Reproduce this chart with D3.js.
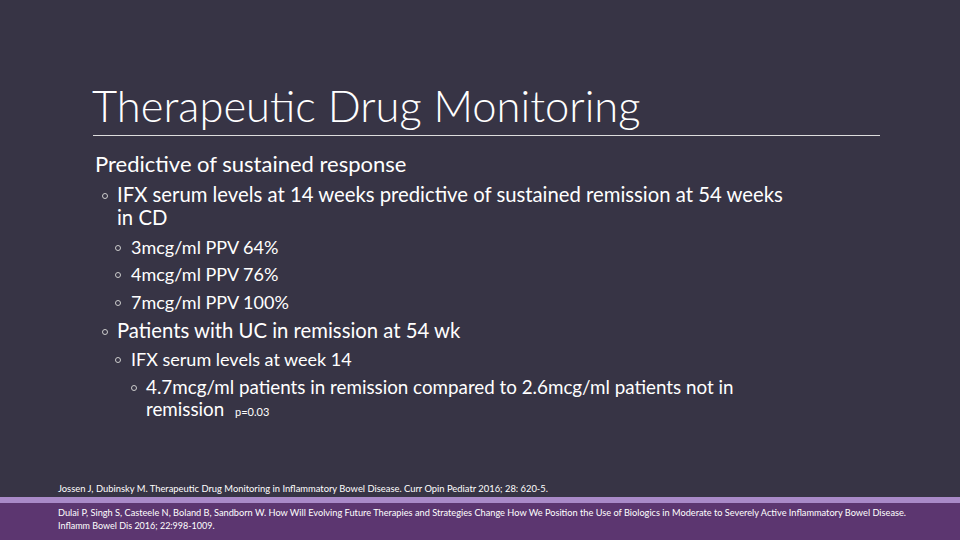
<!DOCTYPE html><html><head><meta charset="utf-8"><script src="https://cdn.jsdelivr.net/npm/d3@7"></script>
<style>body{margin:0;background:#373445}svg{display:block}</style></head><body><svg width="960" height="540"></svg>
<script>
const titleText = ["Therapeutic Drug Monitoring"];
const bulletTexts = ["Predictive of sustained response","IFX serum levels at 14 weeks predictive of sustained remission at 54 weeks","in CD","3mcg/ml PPV 64%","4mcg/ml  PPV 76%","7mcg/ml PPV 100%","Patients with UC in remission at 54 wk","IFX serum levels at week 14","4.7mcg/ml patients in remission compared to 2.6mcg/ml  patients not in","remission"];
const bulletLevels = [0,1,1,2,2,2,1,2,3,3];
const bulletMarks = [false,true,false,true,true,true,true,true,true,false];
const bulletBaselines = [172,202,225,254,281,309,338,366,394,416];
const refTexts = ["Jossen J, Dubinsky M. Therapeutic Drug Monitoring in Inflammatory Bowel Disease. Curr Opin Pediatr 2016; 28:  620-5.","Dulai P, Singh S, Casteele N, Boland B, Sandborn W. How Will Evolving Future Therapies and Strategies Change How We Position the Use of Biologics in Moderate to Severely Active Inflammatory Bowel Disease.","Inflamm Bowel Dis 2016; 22:998-1009."];
const refBaselines = [492,516,529];
const svg = d3.select("svg"), F = "Lato, 'Open Sans', sans-serif";
svg.append("rect").attr("width",960).attr("height",540).attr("fill","#373445");
svg.append("rect").attr("y",498).attr("width",960).attr("height",42).attr("fill","#5c3670");
svg.append("rect").attr("y",497).attr("width",960).attr("height",6).attr("fill","#a98ac8");
svg.append("text").text(titleText[0]).attr("x",92).attr("y",122).attr("fill","#fff").attr("font-family",F).attr("font-size",43.5).attr("font-weight",300);
svg.append("line").attr("x1",93).attr("x2",880).attr("y1",135.5).attr("y2",135.5).attr("stroke","#ddd").attr("stroke-width",1);
const sizes = {0:22,1:20.3,2:18,3:18.8};
bulletTexts.forEach((t,i)=>{
  const l=bulletLevels[i];
  const x = l===0?95: l===1?117: l===2?131: 146;
  const mx = l===1?105: l===2?118: 134;
  svg.append("text").text(t).attr("x",x).attr("y",bulletBaselines[i]).attr("fill","#fff").attr("font-family",F).attr("font-size",sizes[l]);
  if(bulletMarks[i]) svg.append("circle").attr("cx",mx).attr("cy",bulletBaselines[i]-6).attr("r",2.5).attr("fill","none").attr("stroke","#ccc").attr("stroke-width",1);
});
svg.append("text").text("p=0.03").attr("x",235).attr("y",416).attr("fill","#fff").attr("font-family",F).attr("font-size",11);
refTexts.forEach((t,i)=>svg.append("text").text(t).attr("x",58).attr("y",refBaselines[i]).attr("fill","#fff").attr("font-family",F).attr("font-size",9).attr("textLength",i===0?490:i===1?848:null).attr("lengthAdjust","spacingAndGlyphs"));
</script></body></html>
